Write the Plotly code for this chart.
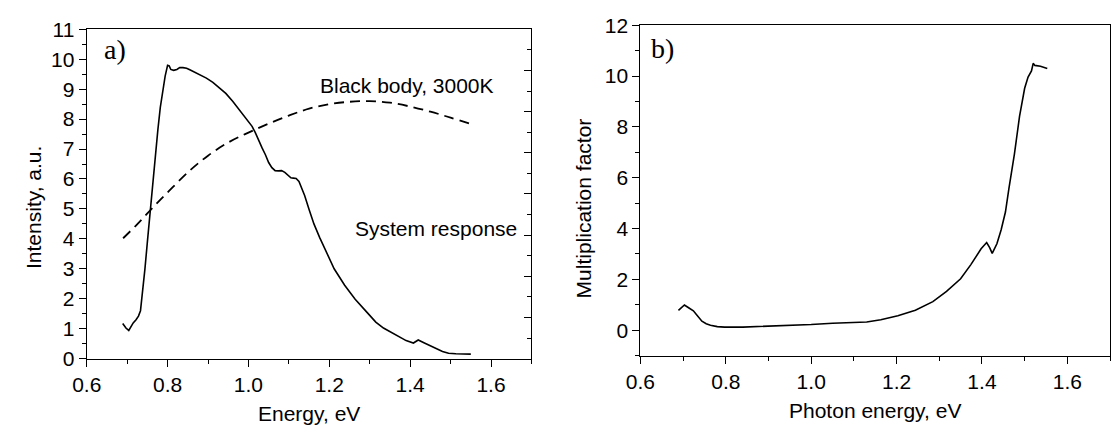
import plotly.graph_objects as go

# ---- Panel a) data ----
sys_energy = [0.689, 0.697, 0.704, 0.710, 0.715, 0.722, 0.728, 0.733, 0.738, 0.744,
              0.750, 0.757, 0.763, 0.770, 0.776, 0.782, 0.788, 0.794, 0.800, 0.804,
              0.808, 0.815, 0.823, 0.830, 0.838, 0.847, 0.855, 0.863, 0.880, 0.896,
              0.912, 0.928, 0.944, 0.961, 0.973, 0.985, 0.997, 1.009, 1.017, 1.025,
              1.034, 1.042, 1.050, 1.058, 1.066, 1.074, 1.082, 1.090, 1.098, 1.105,
              1.111, 1.118, 1.125, 1.132, 1.139, 1.150, 1.162, 1.176, 1.190, 1.212,
              1.238, 1.264, 1.295, 1.315, 1.334, 1.365, 1.390, 1.408, 1.420, 1.434,
              1.460, 1.480, 1.495, 1.513, 1.550]
sys_resp = [1.17, 1.02, 0.94, 1.08, 1.19, 1.30, 1.42, 1.60, 2.20, 3.00,
            3.89, 4.95, 5.90, 6.81, 7.65, 8.39, 8.95, 9.44, 9.80, 9.78,
            9.66, 9.63, 9.66, 9.72, 9.72, 9.70, 9.65, 9.60, 9.49, 9.37,
            9.23, 9.06, 8.86, 8.60, 8.40, 8.18, 7.98, 7.76, 7.55, 7.28,
            7.03, 6.81, 6.55, 6.38, 6.28, 6.27, 6.28, 6.22, 6.12, 6.04,
            6.03, 6.02, 5.92, 5.70, 5.45, 4.98, 4.50, 4.05, 3.65, 3.00,
            2.45, 1.98, 1.52, 1.22, 1.02, 0.78, 0.60, 0.52, 0.62, 0.53,
            0.35, 0.24, 0.18, 0.16, 0.15]

bb_energy = [0.69, 0.72, 0.75, 0.78, 0.80, 0.85, 0.90, 0.95, 1.00, 1.05,
             1.10, 1.15, 1.20, 1.25, 1.30, 1.35, 1.40, 1.45, 1.50, 1.55]
bb_int = [4.02, 4.42, 4.85, 5.28, 5.55, 6.22, 6.78, 7.22, 7.55, 7.85,
          8.12, 8.35, 8.50, 8.58, 8.60, 8.55, 8.42, 8.25, 8.05, 7.84]

# ---- Panel b) data ----
mf_energy = [0.689, 0.696, 0.703, 0.711, 0.718, 0.724, 0.732, 0.738, 0.744, 0.754,
             0.764, 0.780, 0.797, 0.840, 0.878, 0.940, 1.000, 1.050, 1.081, 1.130,
             1.163, 1.203, 1.244, 1.285, 1.317, 1.350, 1.374, 1.398, 1.411, 1.418,
             1.424, 1.435, 1.445, 1.455, 1.463, 1.476, 1.488, 1.500, 1.508, 1.516,
             1.520, 1.524, 1.537, 1.553]
mf_val = [0.78, 0.90, 0.99, 0.90, 0.82, 0.76, 0.60, 0.46, 0.35, 0.25,
          0.19, 0.14, 0.12, 0.12, 0.14, 0.17, 0.22, 0.27, 0.30, 0.32,
          0.41, 0.57, 0.78, 1.12, 1.53, 2.02, 2.58, 3.20, 3.45, 3.25,
          3.02, 3.40, 3.95, 4.65, 5.56, 6.93, 8.41, 9.52, 9.96, 10.20,
          10.50, 10.42, 10.39, 10.30]

x_ticks = [0.6, 0.8, 1.0, 1.2, 1.4, 1.6]
x_ticklabels = ["0.6", "0.8", "1.0", "1.2", "1.4", "1.6"]

FONT = "Liberation Sans, Arial, sans-serif"
SERIF = "Liberation Serif, Times New Roman, serif"
FS = 21

fig = go.Figure()
fig.add_trace(go.Scatter(x=sys_energy, y=sys_resp, mode="lines",
                         line=dict(color="black", width=1.6), xaxis="x", yaxis="y"))
fig.add_trace(go.Scatter(x=bb_energy, y=bb_int, mode="lines", line_shape="spline",
                         line=dict(color="black", width=1.8, dash="10px,6px"),
                         xaxis="x", yaxis="y"))
# dummy trace to render the unlabeled right axis of panel a)
fig.add_trace(go.Scatter(x=[None], y=[None], xaxis="x", yaxis="y3", showlegend=False))
fig.add_trace(go.Scatter(x=mf_energy, y=mf_val, mode="lines",
                         line=dict(color="black", width=1.6), xaxis="x2", yaxis="y2"))

L = dict(l=72.7, r=523.5, t=18.3, b=365.7)
R = dict(l=634.0, r=1110.0, t=14.0, b=362.5)
W, H = 1112, 440

def xdom(p):
    return [p["l"] / W, p["r"] / W]

def ydom(p):
    return [1 - p["b"] / H, 1 - p["t"] / H]

axis_common = dict(showline=True, linecolor="black", linewidth=1.3, mirror=True,
                   showgrid=False, zeroline=False, ticks="outside", tickcolor="black",
                   ticklen=7, tickwidth=1.2,
                   tickfont=dict(family=FONT, size=FS, color="black"))

fig.update_layout(
    width=W, height=H, margin=dict(l=0, r=0, t=0, b=0),
    paper_bgcolor="white", plot_bgcolor="white", showlegend=False,
    xaxis=dict(**axis_common, domain=xdom(L), range=[0.6, 1.7], anchor="y",
               tickvals=x_ticks, ticktext=x_ticklabels,
               minor=dict(tickvals=[0.7, 0.9, 1.1, 1.3, 1.5, 1.7], ticklen=4,
                          ticks="outside", tickcolor="black", tickwidth=1.2)),
    yaxis=dict(**axis_common, domain=ydom(L), range=[0, 11], anchor="x", dtick=1,
               minor=dict(dtick=0.5, ticklen=4, ticks="outside", tickcolor="black",
                          tickwidth=1.2)),
    yaxis3=dict(overlaying="y", side="right", anchor="x", range=[0, 8], dtick=1,
                showline=False, showgrid=False, zeroline=False, showticklabels=False,
                ticks="inside", ticklen=7, tickcolor="black", tickwidth=1.2,
                minor=dict(dtick=0.5, ticklen=4, ticks="inside", tickcolor="black",
                           tickwidth=1.2)),
    xaxis2=dict(**axis_common, domain=xdom(R), range=[0.6, 1.7], anchor="y2",
                tickvals=x_ticks, ticktext=x_ticklabels,
                minor=dict(tickvals=[0.7, 0.9, 1.1, 1.3, 1.5, 1.7], ticklen=4,
                           ticks="outside", tickcolor="black", tickwidth=1.2)),
    yaxis2=dict(**axis_common, domain=ydom(R), range=[-1, 12], anchor="x2",
                tickvals=[0, 2, 4, 6, 8, 10, 12],
                minor=dict(tickvals=[-1, 1, 3, 5, 7, 9, 11], ticklen=4,
                           ticks="outside", tickcolor="black", tickwidth=1.2)),
)

ann = []
def txt(x, y, s, size=FS, family=FONT, angle=0, xanchor="center"):
    ann.append(dict(x=x / W, y=1 - y / H, xref="paper", yref="paper", text=s,
                    showarrow=False, textangle=angle, xanchor=xanchor, yanchor="middle",
                    font=dict(family=family, size=size, color="black")))

txt(88, 40, "a)", size=28, family=SERIF, xanchor="left")
txt(643, 38, "b)", size=28, family=SERIF, xanchor="left")
txt(307, 78, "Black body, 3000K", xanchor="left")
txt(343, 228, "System response", xanchor="left")
txt(18, 206, "Intensity, a.u.", angle=-90)
txt(298, 424, "Energy, eV")
txt(576, 207, "Multiplication factor", angle=-90)
txt(872, 420, "Photon energy, eV")
fig.update_layout(annotations=ann)

fig.write_html("out.html")
